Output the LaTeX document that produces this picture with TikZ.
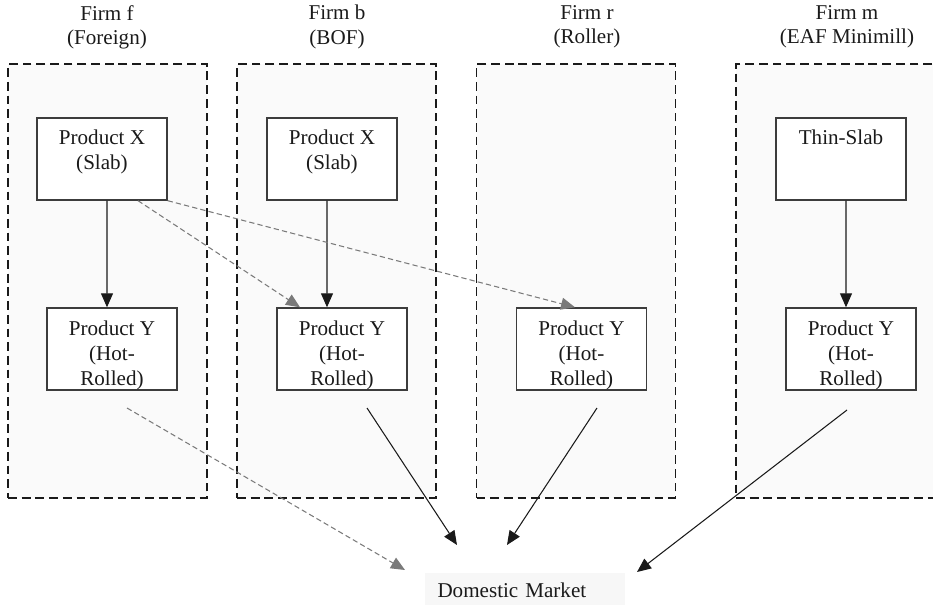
\documentclass[tikz,border=0pt]{standalone}
\usepackage{fontspec}
\setmainfont{Liberation Serif}
\usetikzlibrary{arrows.meta,positioning}
\definecolor{ink}{HTML}{1A1A1A}
\definecolor{dashgray}{HTML}{7A7A7A}
\definecolor{boxfill}{HTML}{FAFAFA}
\definecolor{mktfill}{HTML}{F7F7F7}

\begin{document}
\begin{tikzpicture}[x=0.02cm,y=-0.02cm,
  font=\fontsize{12}{14}\selectfont,text=ink,
  >={Triangle[length=0.28cm,width=0.24cm]},
  firm/.style={draw=ink,line width=0.9pt,dash pattern=on 5pt off 2.8pt,
    fill=boxfill,minimum width=3.98cm,minimum height=8.68cm,inner sep=0pt},
  prod/.style={draw=ink!85,line width=0.8pt,fill=white,
    minimum width=2.6cm,minimum height=1.64cm,inner sep=0pt},
  prodtext/.style={anchor=north,align=center,inner sep=0pt},
  flow/.style={->,ink,line width=0.6pt},
  trade/.style={->,dashgray,line width=0.6pt,dash pattern=on 3pt off 1.8pt}]
  \useasboundingbox (0,0) rectangle (933,605);
  \clip (0,0) rectangle (933,605);

  % the four firms
  \node[firm] (ff) at (107.5,281) {};
  \node[firm] (fb) at (336.5,281) {};
  \node[firm] (fr) at (576,281) {};
  \node[firm,minimum width=4.2cm] (fm) at (841,281) {};
  \node[prodtext] (hf) at (107,5) {Firm f\\(Foreign)};
  \node[prodtext] (hb) at (337,5) {Firm b\\(BOF)};
  \node[prodtext] (hr) at (587,5) {Firm r\\(Roller)};
  \node[prodtext] (hm) at (847,5) {Firm m\\(EAF Minimill)};

  % slab stage
  \node[prod] (xf) at (102,159) {};
  \node[prod] (xb) at (332,159) {};
  \node[prod] (tm) at (841,159) {};
  \node[prodtext] (xftxt) at (102,130) {Product X\\(Slab)};
  \node[prodtext] (xbtxt) at (332,130) {Product X\\(Slab)};
  \node[prodtext] (tmtxt) at (841,130) {Thin-Slab};

  % hot-rolled stage
  \node[prod] (yf) at (112,349) {};
  \node[prod] (yb) at (342,349) {};
  \node[prod] (yr) at (581.5,349) {};
  \node[prod] (ym) at (851,349) {};
  \foreach \n/\xx in {yf/112,yb/342,yr/581.5,ym/851}{
    \node[prodtext] (\n txt) at (\xx,321) {Product Y\\(Hot-\\Rolled)};
  }

  \node[anchor=north,fill=mktfill,text width=3.5cm,align=left,
    inner xsep=0.25cm,inner ysep=0.19cm] (dm) at (525,573) {Domestic Market};

  % within-firm flows
  \draw[flow] ([xshift=0.1cm]xf.south) -- ([xshift=-0.1cm]yf.north);
  \draw[flow] ([xshift=-0.1cm]xb.south) -- ([xshift=-0.3cm]yb.north);
  \draw[flow] ([xshift=0.1cm]tm.south) -- ([xshift=-0.1cm]ym.north);

  % imported slab
  \draw[trade] ([xshift=0.72cm]xf.south) -- ([xshift=-0.84cm]yb.north);
  \draw[trade] (xf.south east) -- ([xshift=-0.13cm]yr.north);

  % sales to the market
  \coordinate (fout) at (127,408);
  \coordinate (bout) at (367,408);
  \coordinate (rout) at (597,408);
  \coordinate (mout) at (847,410);
  \coordinate (dmf) at (405,570);
  \coordinate (dmb) at (457,545);
  \coordinate (dmr) at (507,545);
  \coordinate (dmm) at (637,572);
  \draw[trade] (fout) -- (dmf);
  \draw[flow] (bout) -- (dmb);
  \draw[flow] (rout) -- (dmr);
  \draw[flow] (mout) -- (dmm);
\end{tikzpicture}
\end{document}
